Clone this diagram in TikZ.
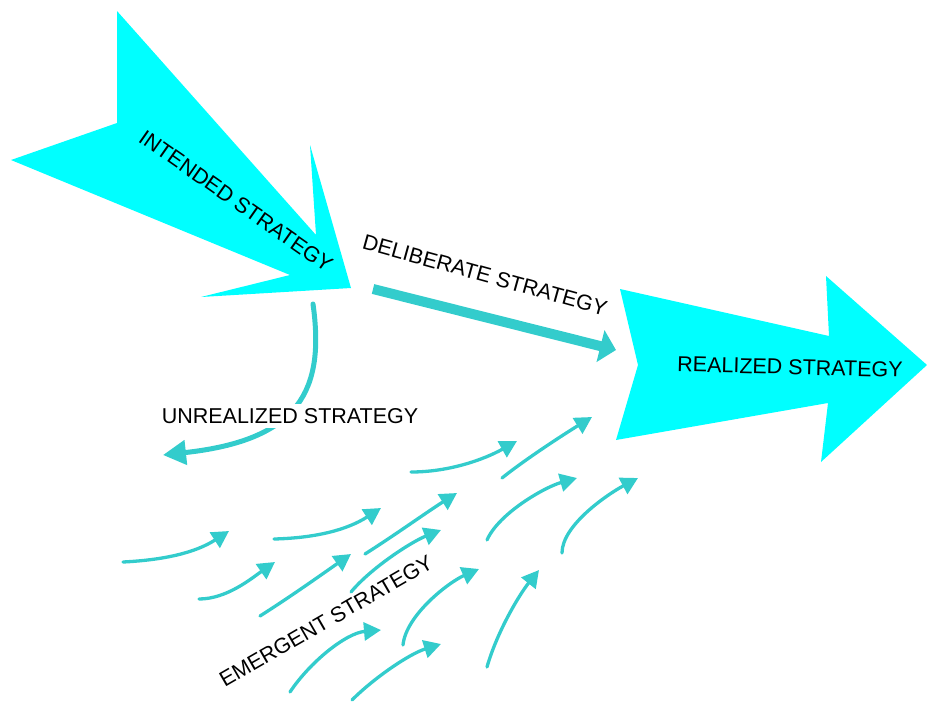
\documentclass[tikz,border=0pt]{standalone}
\usepackage{fontspec}
\setmainfont{Liberation Sans}
\usetikzlibrary{arrows.meta}
\definecolor{bigcyan}{RGB}{0,255,255}
\definecolor{flow}{RGB}{51,204,204}
\begin{document}
\begin{tikzpicture}[x=1pt,y=-1pt,
  bigarrow/.style={fill=bigcyan, draw=none},
  lbl/.style={font=\fontsize{21.5}{24}\selectfont, inner sep=0pt, text=black},
  smallflow/.style={draw=flow, line width=3.3pt, line cap=round, -{Triangle[length=17pt,width=18pt]}},
  unflow/.style={draw=flow, line width=5pt, line cap=round, -{Triangle[length=23pt,width=24pt]}},
  delflow/.style={draw=flow, line width=10pt, -{Triangle[length=16pt,width=32pt]}}]
\useasboundingbox (0,0) rectangle (927,702);

% big arrows
\path[bigarrow] (117,11) -- (117,123) -- (11,160) -- (290,275) -- (201,297)
  -- (351,288) -- (310,145) -- (316,235) -- cycle;
\path[bigarrow] (620,289) -- (829,336) -- (826,276) -- (927,365) -- (821,462)
  -- (828,403) -- (616,440) -- (638,365) -- cycle;

% deliberate and unrealized connectors
\coordinate (delS) at (373,289);
\coordinate (delE) at (616,350);
\draw[delflow] (delS) -- (delE);
\coordinate (unS) at (313,304);
\coordinate (unE) at (163,455);
\draw[unflow] (unS) .. controls (325,390) and (300,440) .. (unE);

% labels
\node[lbl, rotate=-35] (intended) at (236,201) {INTENDED STRATEGY};
\node[lbl, rotate=-1.5] (realized) at (790,367) {REALIZED STRATEGY};
\node[lbl, rotate=-15.5] (deliberate) at (485,275) {DELIBERATE STRATEGY};
\node[lbl, fill=white, inner xsep=1pt, inner ysep=4pt] (unrealized) at (290,416) {UNREALIZED STRATEGY};
\node[lbl, rotate=30] (emergent) at (326,621) {EMERGENT STRATEGY};

% emergent small arrows
\coordinate (a1) at (123,562);  \coordinate (b1) at (229,531);
\coordinate (a2) at (274,539);  \coordinate (b2) at (381,508);
\coordinate (a3) at (199,599);  \coordinate (b3) at (275,562);
\coordinate (a4) at (260,616);  \coordinate (b4) at (351,554);
\coordinate (a5) at (365,554);  \coordinate (b5) at (457,493);
\coordinate (a6) at (351,592);  \coordinate (b6) at (441,530);
\coordinate (a7) at (290,692);  \coordinate (b7) at (381,630);
\coordinate (a8) at (352,700);  \coordinate (b8) at (441,644);
\coordinate (a9) at (403,645);  \coordinate (b9) at (479,569);
\coordinate (a10) at (487,667); \coordinate (b10) at (539,570);
\coordinate (a11) at (411,472); \coordinate (b11) at (517,441);
\coordinate (a12) at (502,478); \coordinate (b12) at (592,417);
\coordinate (a13) at (487,540); \coordinate (b13) at (577,478);
\coordinate (a14) at (562,553); \coordinate (b14) at (638,478);

\draw[smallflow] (a1) .. controls (163,560) and (195,553) .. (b1);
\draw[smallflow] (a2) .. controls (315,538) and (347,530) .. (b2);
\draw[smallflow] (a3) .. controls (227,599) and (252,578) .. (b3);
\draw[smallflow] (a4) .. controls (290,597) and (321,575) .. (b4);
\draw[smallflow] (a5) .. controls (395,535) and (427,512) .. (b5);
\draw[smallflow] (a6) .. controls (371,568) and (411,542) .. (b6);
\draw[smallflow] (a7) .. controls (310,662) and (346,633) .. (b7);
\draw[smallflow] (a8) .. controls (374,678) and (409,654) .. (b8);
\draw[smallflow] (a9) .. controls (406,615) and (449,582) .. (b9);
\draw[smallflow] (a10) .. controls (497,632) and (519,595) .. (b10);
\draw[smallflow] (a11) .. controls (450,472) and (485,459) .. (b11);
\draw[smallflow] (a12) .. controls (527,458) and (566,433) .. (b12);
\draw[smallflow] (a13) .. controls (499,513) and (545,487) .. (b13);
\draw[smallflow] (a14) .. controls (562,525) and (608,494) .. (b14);
\end{tikzpicture}
\end{document}
